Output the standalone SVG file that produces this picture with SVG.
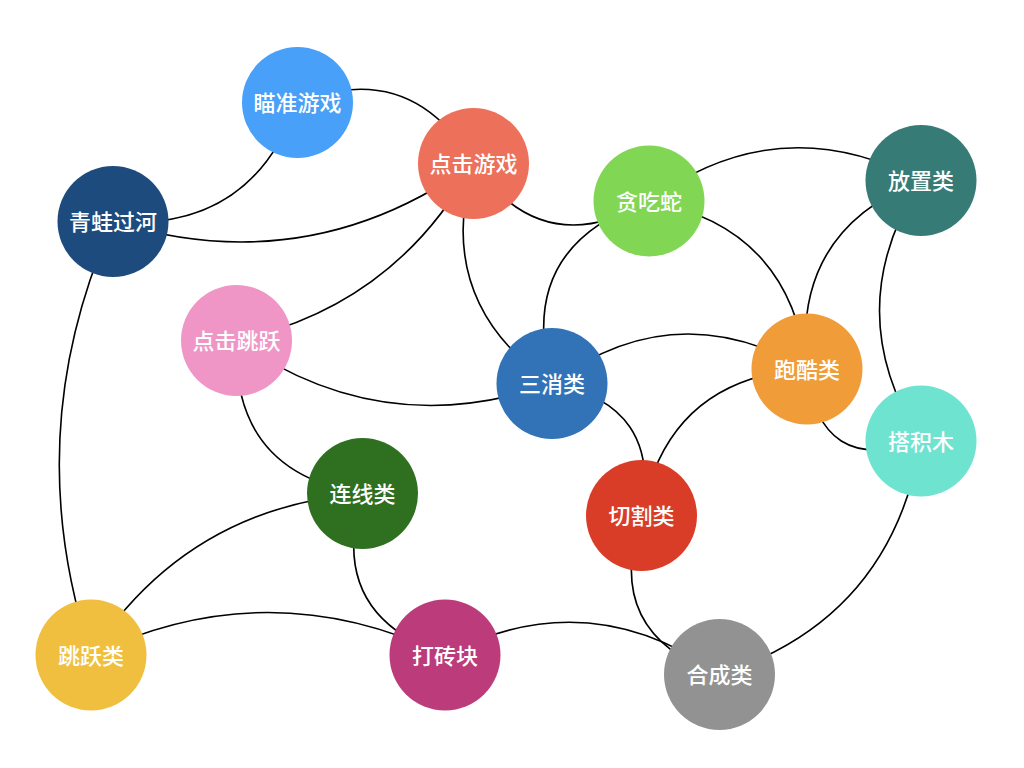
<svg xmlns="http://www.w3.org/2000/svg" width="1024" height="768" viewBox="0 0 1024 768">
<style>
.e{fill:none;stroke:#000;stroke-width:1.6}
.n text{fill:#fff;font-family:"Noto Sans CJK SC","Noto Sans",sans-serif;font-size:22px;font-weight:500;text-anchor:middle;dominant-baseline:central}
</style>
<rect width="1024" height="768" fill="#fff"/>
<g id="edges">
<path class="e" d="M297.5,102.5 Q411.5,58 473.5,163.5"/>
<path class="e" d="M297.5,102.5 Q250.8,232.6 113,221.5"/>
<path class="e" d="M473.5,163.5 Q308,282 113,221.5"/>
<path class="e" d="M473.5,163.5 Q543.9,263.4 649,201"/>
<path class="e" d="M473.5,163.5 Q395,305.7 236.5,340.5"/>
<path class="e" d="M473.5,163.5 Q432.7,302.1 552,383.5"/>
<path class="e" d="M649,201 Q778.6,106 921,180.5"/>
<path class="e" d="M649,201 Q514,246.3 552,383.5"/>
<path class="e" d="M649,201 Q790,226.8 807,369"/>
<path class="e" d="M921,180.5 Q791.3,230.8 807,369"/>
<path class="e" d="M921,180.5 Q838,310.75 921,441"/>
<path class="e" d="M552,383.5 Q674.7,292.4 807,369"/>
<path class="e" d="M236.5,340.5 Q383.2,443.3 552,383.5"/>
<path class="e" d="M236.5,340.5 Q231.5,473 362.5,493.5"/>
<path class="e" d="M552,383.5 Q663,404.6 641.5,515.5"/>
<path class="e" d="M807,369 Q667.2,377.8 641.5,515.5"/>
<path class="e" d="M807,369 Q818.6,476.9 921,441"/>
<path class="e" d="M113,221.5 Q18,434 91,655"/>
<path class="e" d="M362.5,493.5 Q186.9,507.3 91,655"/>
<path class="e" d="M362.5,493.5 Q325.4,614.3 445,655"/>
<path class="e" d="M91,655 Q268,570 445,655"/>
<path class="e" d="M445,655 Q588.2,581 719.5,674.5"/>
<path class="e" d="M641.5,515.5 Q601.5,633.7 719.5,674.5"/>
<path class="e" d="M921,441 Q891.4,619.2 719.5,674.5"/>
</g>
<g id="n-miaozhun" class="n"><circle cx="297.5" cy="102.5" r="55.5" fill="#48a0f8"/><text x="297.5" y="101">瞄准游戏</text></g>
<g id="n-dianji" class="n"><circle cx="473.5" cy="163.5" r="55.5" fill="#ed705a"/><text x="473.5" y="162">点击游戏</text></g>
<g id="n-qingwa" class="n"><circle cx="113" cy="221.5" r="55.5" fill="#1e4b7d"/><text x="113" y="220">青蛙过河</text></g>
<g id="n-tanchishe" class="n"><circle cx="649" cy="201" r="55.5" fill="#81d654"/><text x="649" y="199.5">贪吃蛇</text></g>
<g id="n-fangzhi" class="n"><circle cx="921" cy="180.5" r="55.5" fill="#377b77"/><text x="921" y="179">放置类</text></g>
<g id="n-dianjitiaoyue" class="n"><circle cx="236.5" cy="340.5" r="55.5" fill="#ef96c7"/><text x="236.5" y="339">点击跳跃</text></g>
<g id="n-sanxiao" class="n"><circle cx="552" cy="383.5" r="55.5" fill="#3273b8"/><text x="552" y="382">三消类</text></g>
<g id="n-paoku" class="n"><circle cx="807" cy="369" r="55.5" fill="#f09c38"/><text x="807" y="367.5">跑酷类</text></g>
<g id="n-dajimu" class="n"><circle cx="921" cy="441" r="55.5" fill="#6ee3d0"/><text x="921" y="439.5">搭积木</text></g>
<g id="n-lianxian" class="n"><circle cx="362.5" cy="493.5" r="55.5" fill="#2f6f20"/><text x="362.5" y="492">连线类</text></g>
<g id="n-qiege" class="n"><circle cx="641.5" cy="515.5" r="55.5" fill="#da3d27"/><text x="641.5" y="514">切割类</text></g>
<g id="n-tiaoyue" class="n"><circle cx="91" cy="655" r="55.5" fill="#f0bf40"/><text x="91" y="653.5">跳跃类</text></g>
<g id="n-dazhuankuai" class="n"><circle cx="445" cy="655" r="55.5" fill="#bb3b7b"/><text x="445" y="653.5">打砖块</text></g>
<g id="n-hecheng" class="n"><circle cx="719.5" cy="674.5" r="55.5" fill="#929292"/><text x="719.5" y="673">合成类</text></g>
</svg>
